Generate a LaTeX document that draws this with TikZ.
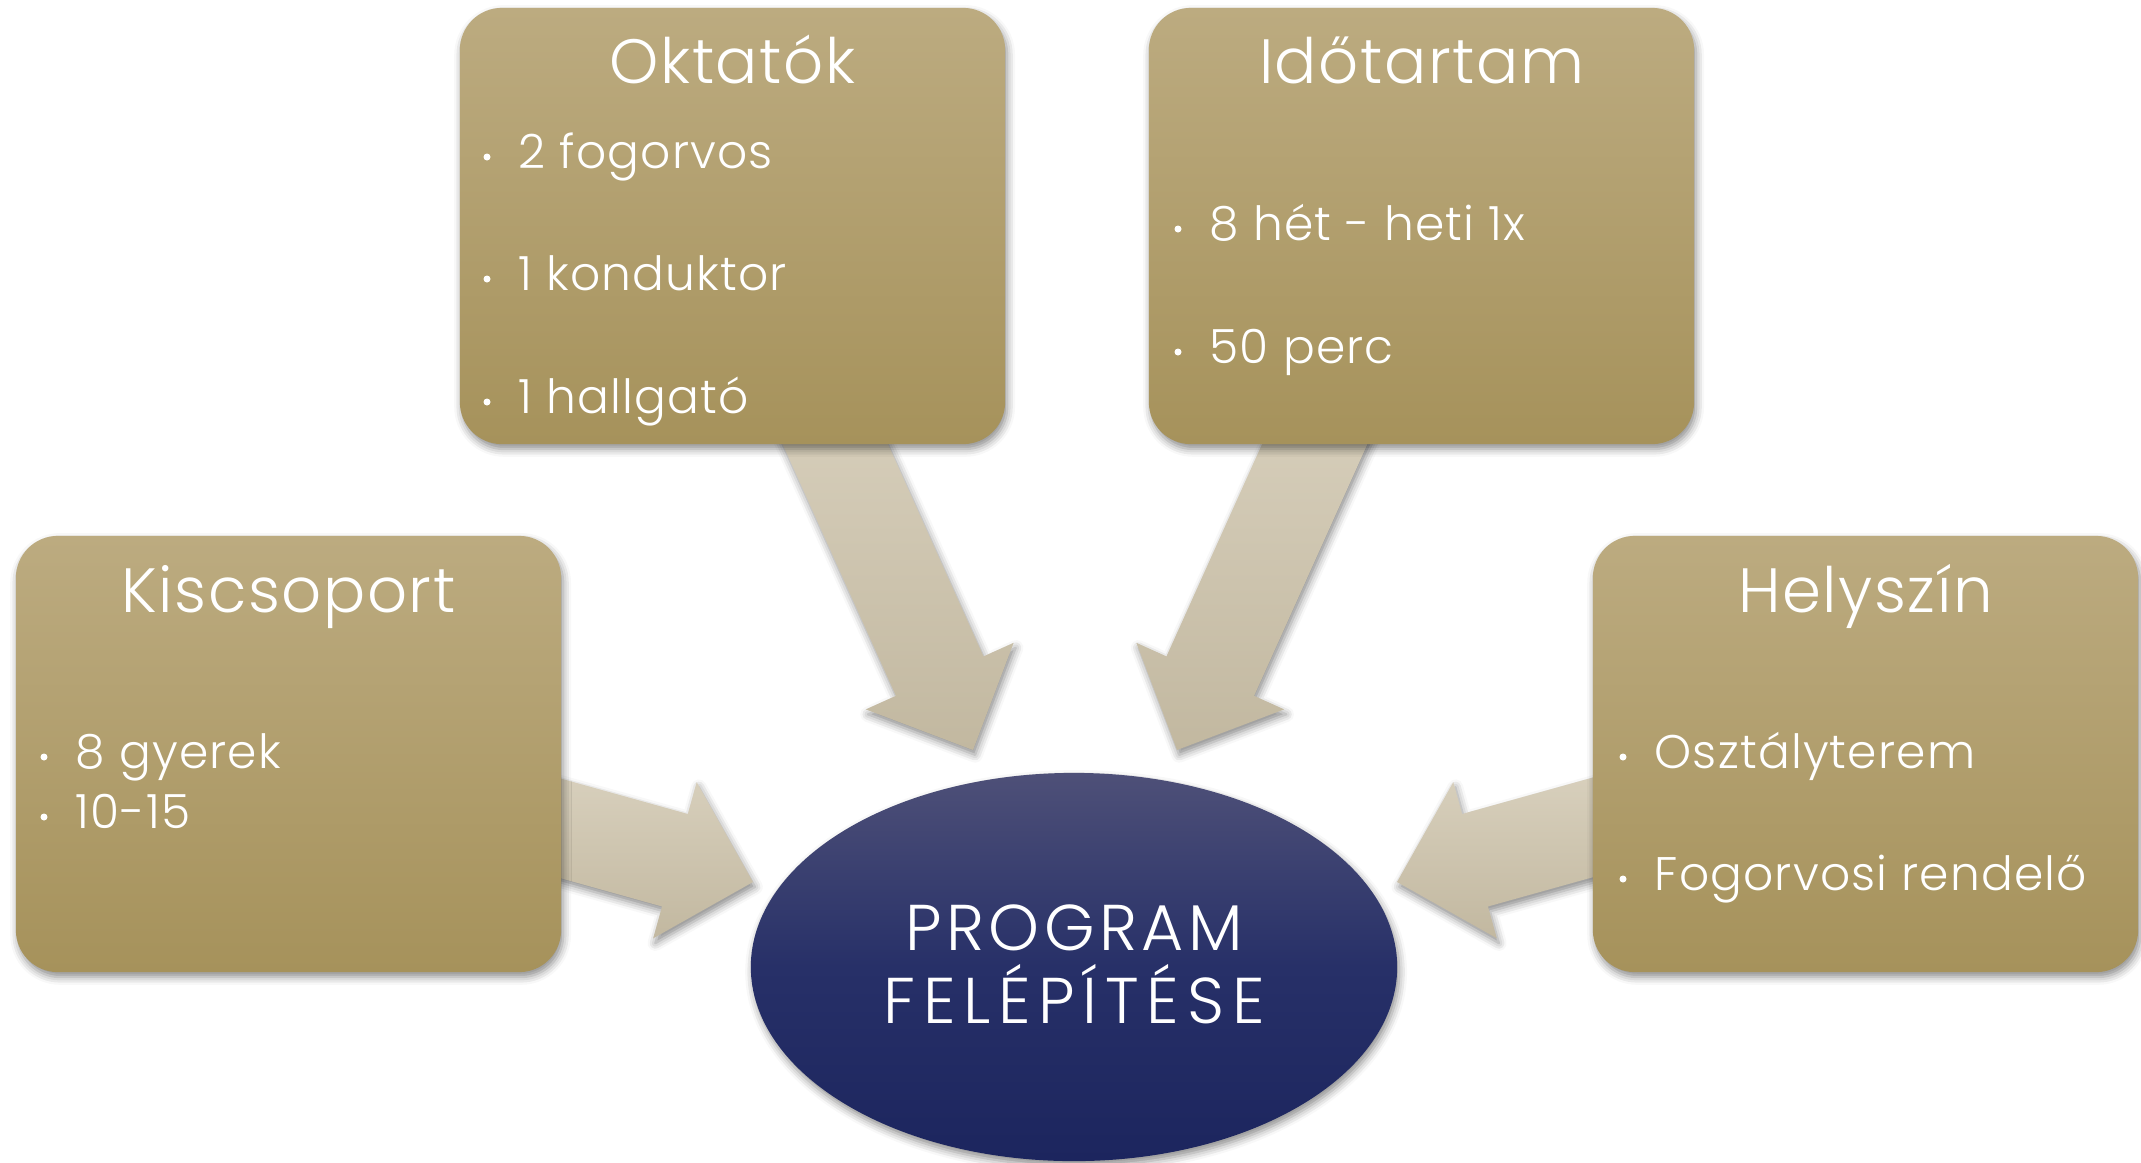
\documentclass[tikz,border=0pt]{standalone}
\usepackage{fontspec}
\setmainfont{Poppins}[UprightFont={* Light}, LetterSpace=2.5]
\newfontfamily\capsfont{Poppins}[UprightFont={* Light}, LetterSpace=7]
\newfontfamily\capswide{Poppins}[UprightFont={* Light}, LetterSpace=12]
\usetikzlibrary{calc,shapes.geometric,shadows.blur}
\definecolor{boxtop}{RGB}{188,171,128}
\definecolor{boxbot}{RGB}{166,146,91}
\definecolor{arrtop}{RGB}{217,209,190}
\definecolor{arrbot}{RGB}{194,184,160}
\definecolor{elltop}{RGB}{78,80,120}
\definecolor{ellmid}{RGB}{39,48,104}
\definecolor{ellbot}{RGB}{28,37,94}
\tikzset{
  softshadow/.style={blur shadow={shadow xshift=0.6pt, shadow yshift=-1.4pt, shadow blur radius=2.2pt, shadow opacity=45}},
  gbox/.style={rounded corners=0.42cm, minimum width=5.45cm, minimum height=4.36cm,
    top color=boxtop, bottom color=boxbot, draw=none, inner sep=0, softshadow},
  ttl/.style={anchor=base, text=white, font=\fontsize{17.8}{20}\selectfont, inner sep=0},
  itm/.style={anchor=base west, text=white, font=\fontsize{13.4}{16}\selectfont, inner sep=0},
  ctext/.style={anchor=base, text=white, font=\capsfont\fontsize{18.4}{21}\selectfont, inner sep=0},
  ctextw/.style={ctext, font=\capswide\fontsize{18.4}{21}\selectfont},
  arrsty/.style={top color=arrtop, bottom color=arrbot, draw=none, softshadow},
  centerell/.style={ellipse, minimum width=6.46cm, minimum height=3.88cm, inner sep=0, draw=none,
    top color=elltop, bottom color=ellbot, middle color=ellmid, softshadow}
}
% block arrow from #1 (shaft start) to #2 (tip)
\newcommand\blockarr[2]{%
  \coordinate (#1h) at ($(#2)!0.81cm!(#1)$);
  \path[arrsty] ($(#1)!0.48cm!90:(#2)$) -- ($(#1h)!0.48cm!90:(#2)$) -- ($(#1h)!0.81cm!90:(#2)$)
     -- (#2) -- ($(#1h)!0.81cm!-90:(#2)$) -- ($(#1h)!0.48cm!-90:(#2)$) -- ($(#1)!0.48cm!-90:(#2)$) -- cycle;
}
\newcommand\bitem[4]{%
  \fill[white] (#1-31,#2-11) circle[radius=0.035cm];
  \node[itm] (#3) at (#1,#2) {#4};
}
\begin{document}
\begin{tikzpicture}[x=0.01cm,y=-0.01cm]
\useasboundingbox (0,0) rectangle (2141,1163);
% arrow end points
\coordinate (aos) at (810,388);  \coordinate (aot) at (973,750);
\coordinate (ais) at (1340,388); \coordinate (ait) at (1177,750);
\coordinate (aks) at (502,812);  \coordinate (akt) at (753,882);
\coordinate (ahs) at (1648,812); \coordinate (aht) at (1397,882);
\blockarr{aos}{aot}
\blockarr{ais}{ait}
\blockarr{aks}{akt}
\blockarr{ahs}{aht}
% boxes
\node[gbox] (okt) at (732.5,226) {};
\node[gbox] (ido) at (1421.5,226) {};
\node[gbox] (kis) at (288.5,754) {};
\node[gbox] (hely) at (1865.5,754) {};
% titles
\node[ttl] (oktT) at (732.5,83) {Oktatók};
\node[ttl] (idoT) at (1421.5,83) {Időtartam};
\node[ttl] (kisT) at (288.5,612) {Kiscsoport};
\node[ttl] (helyT) at (1865.5,612) {Helyszín};
% items
\bitem{518}{168}{o1}{2 fogorvos}
\bitem{518}{290}{o2}{1 konduktor}
\bitem{518}{413}{o3}{1 hallgató}
\bitem{1209}{240}{i1}{8 hét - heti 1x}
\bitem{1209}{363}{i2}{50 perc}
\bitem{75}{768}{k1}{8 gyerek}
\bitem{75}{828}{k2}{10-15}
\bitem{1654}{768}{h1}{Osztályterem}
\bitem{1654}{890}{h2}{Fogorvosi rendelő}
% center
\node[centerell] (prog) at (1074,967) {};
\node[ctext] (prog1) at (1074,950) {PROGRAM};
\node[ctextw] (prog2) at (1074,1023) {FELÉPÍTÉSE};
\end{tikzpicture}
\end{document}
